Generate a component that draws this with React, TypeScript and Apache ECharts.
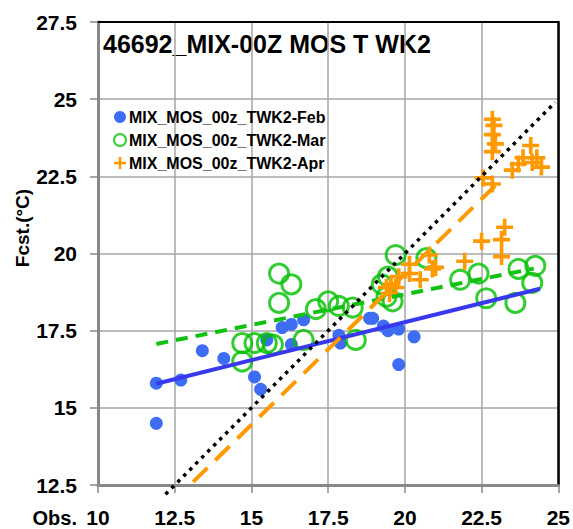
import React, { useEffect, useRef } from "react";
import * as echarts from "echarts";

const xTicks = [10, 12.5, 15, 17.5, 20, 22.5, 25];
const yTicks = [12.5, 15, 17.5, 20, 22.5, 25, 27.5];

const seriesNames = ["MIX_MOS_00z_TWK2-Feb", "MIX_MOS_00z_TWK2-Mar", "MIX_MOS_00z_TWK2-Apr"];

const febPoints: number[][] = [
  [11.9, 15.8], [11.9, 14.5], [12.7, 15.9], [13.4, 16.85], [14.1, 16.6],
  [15.1, 16.0], [15.3, 15.6], [15.5, 17.2], [16.0, 17.6], [16.3, 17.7],
  [16.7, 17.85], [16.3, 17.05], [17.85, 17.35], [17.9, 17.1], [18.85, 17.9],
  [18.95, 17.9], [19.3, 17.65], [19.45, 17.5], [19.8, 17.55], [19.8, 16.4],
  [20.3, 17.3],
];

const marPoints: number[][] = [
  [14.7, 17.1], [15.1, 17.1], [15.5, 17.1], [14.7, 16.5], [15.9, 19.35],
  [16.3, 19.0], [15.9, 18.4], [17.1, 18.2], [17.5, 18.45], [17.85, 18.3],
  [18.3, 18.25], [15.7, 17.05], [16.7, 17.2], [18.4, 17.2], [19.7, 19.95],
  [19.45, 19.25], [19.25, 19.0], [19.4, 18.6], [19.6, 18.45], [20.7, 19.85],
  [21.8, 19.15], [22.4, 19.35], [22.65, 18.55], [23.6, 18.4], [23.7, 19.5],
  [24.25, 19.6], [24.15, 19.05],
];

const aprPoints: number[][] = [
  [22.85, 24.35], [22.9, 24.15], [22.85, 23.85], [22.95, 23.55], [22.85, 23.3],
  [22.55, 22.45], [22.85, 22.25], [24.1, 23.5], [24.3, 23.1], [23.85, 23.1],
  [23.7, 22.9], [23.5, 22.7], [24.45, 22.8], [24.15, 22.95], [23.25, 20.85],
  [23.15, 20.45], [22.5, 20.4], [23.15, 19.9], [21.95, 19.75], [21.0, 19.55],
  [20.5, 19.15], [20.15, 19.65], [20.15, 19.35], [20.8, 19.95], [20.9, 19.5],
  [19.8, 19.25], [19.55, 19.0], [19.4, 18.9], [19.7, 18.9], [19.5, 18.7],
];

const febTrend: number[][] = [[11.9, 15.78], [24.4, 18.86]];
const marTrend: number[][] = [[11.9, 17.07], [24.2, 19.51]];
const aprTrend: number[][] = [[13.1, 12.6], [23.2, 22.45]];
const oneToOne: number[][] = [[12.2, 12.2], [24.9, 24.9]];

const FONT = "Liberation Sans";
const PLUS = "path://M6.3,0H9.7V6.3H16V9.7H9.7V16H6.3V9.7H0V6.3H6.3Z";

export default function App() {
  const ref = useRef<HTMLDivElement>(null);
  useEffect(() => {
    document.body.style.margin = "0";
    const chart = echarts.init(ref.current!, undefined, { renderer: "svg" });
    const labelStyle = { fontFamily: FONT, fontWeight: "bold" as const, fontSize: 21, color: "#000" };
    chart.setOption({
      animation: false,
      backgroundColor: "#fff",
      grid: { left: 98, right: 11, top: 22, bottom: 44 },
      xAxis: [
        {
          type: "value", min: xTicks[0], max: xTicks[xTicks.length - 1], interval: 2.5,
          axisLine: { show: true, onZero: false, lineStyle: { color: "#888", width: 3 } },
          axisTick: { show: true, inside: false, length: 8, lineStyle: { color: "#888", width: 1.5 } },
          splitLine: { show: true, lineStyle: { color: "#a6a6a6", width: 1.5 } },
          axisLabel: { ...labelStyle, margin: 22 },
        },
        {
          type: "value", position: "top", min: xTicks[0], max: xTicks[xTicks.length - 1], interval: 2.5,
          axisLine: { show: true, onZero: false, lineStyle: { color: "#000", width: 2 } },
          axisTick: { show: false }, axisLabel: { show: false }, splitLine: { show: false },
        },
      ],
      yAxis: [
        {
          type: "value", min: yTicks[0], max: yTicks[yTicks.length - 1], interval: 2.5,
          axisLine: { show: true, onZero: false, lineStyle: { color: "#888", width: 3 } },
          axisTick: { show: true, inside: false, length: 8, lineStyle: { color: "#888", width: 1.5 } },
          splitLine: { show: true, lineStyle: { color: "#a6a6a6", width: 1.5 } },
          axisLabel: { ...labelStyle, margin: 21 },
        },
        {
          type: "value", position: "right", min: yTicks[0], max: yTicks[yTicks.length - 1], interval: 2.5,
          axisLine: { show: true, onZero: false, lineStyle: { color: "#000", width: 2.5 } },
          axisTick: { show: false }, axisLabel: { show: false }, splitLine: { show: false },
        },
      ],
      legend: {
        data: seriesNames,
        orient: "vertical",
        left: 108,
        top: 104,
        itemWidth: 12,
        itemHeight: 12,
        itemGap: 7,
        textStyle: { fontFamily: FONT, fontWeight: "bold", fontSize: 16, color: "#000", padding: [0, 0, 0, -2] },
      },
      graphic: [
        {
          type: "text", left: 103, top: 31,
          style: { text: "46692_MIX-00Z MOS T WK2", font: `bold 25px "${FONT}"`, fill: "#000" },
        },
        {
          type: "text", x: 22, y: 228, rotation: Math.PI / 2,
          style: { text: "Fcst.(°C)", font: `bold 19px "${FONT}"`, fill: "#000", textAlign: "center", textVerticalAlign: "middle" },
        },
        {
          type: "text", x: 77, y: 518,
          style: { text: "Obs.", font: `bold 20px "${FONT}"`, fill: "#000", textAlign: "right", textVerticalAlign: "middle" },
        },
      ],
      series: [
        {
          name: seriesNames[0], type: "scatter", data: febPoints, symbol: "circle", symbolSize: 13,
          itemStyle: { color: "#3e6cf2", opacity: 1 },
        },
        {
          name: seriesNames[1], type: "scatter", data: marPoints, symbol: "circle", symbolSize: 19,
          itemStyle: { color: "rgba(0,0,0,0)", borderColor: "#00c000", borderWidth: 3 },
        },
        {
          name: seriesNames[2], type: "scatter", data: aprPoints, symbol: PLUS, symbolSize: 17,
          itemStyle: { color: "#ff9900", borderWidth: 0, opacity: 1 },
        },
        {
          name: "febTrend", type: "line", data: febTrend, symbol: "none",
          lineStyle: { color: "#3838ee", width: 4 },
        },
        {
          name: "marTrend", type: "line", data: marTrend, symbol: "none",
          lineStyle: { color: "#11c011", width: 4, type: [12, 8] },
        },
        {
          name: "aprTrend", type: "line", data: aprTrend, symbol: "none",
          lineStyle: { color: "#ff9900", width: 4, type: [20, 11] },
        },
        {
          name: "oneToOne", type: "line", data: oneToOne, symbol: "none", clip: false,
          lineStyle: { color: "#000", width: 3.5, type: [3.5, 5] },
        },
      ],
    });
    return () => chart.dispose();
  }, []);
  return <div ref={ref} style={{ width: 573, height: 529 }} />;
}
